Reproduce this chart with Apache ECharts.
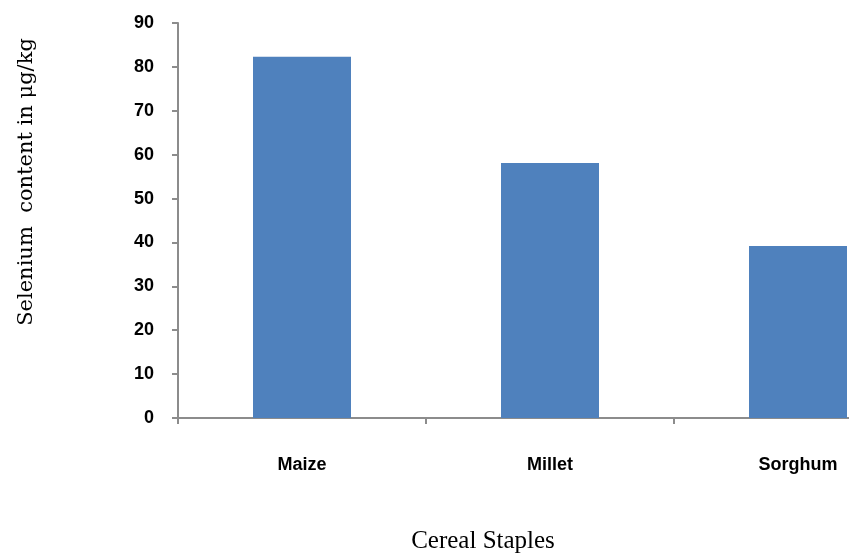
<!DOCTYPE html>
<html>
<head>
<meta charset="utf-8">
<script src="https://cdn.jsdelivr.net/npm/echarts@6/dist/echarts.min.js"></script>
<style>
  html, body { margin: 0; padding: 0; background: #fff; }
  #main { width: 849px; height: 554px; }
</style>
</head>
<body>
<div id="main"></div>
<script>
var categories = ['Maize', 'Millet', 'Sorghum'];
var selenium = [82.3, 58.1, 39.2];
var yTitle = 'Selenium  content in \u03bcg/kg';
var xTitle = 'Cereal Staples';

var chart = echarts.init(document.getElementById('main'), null, { renderer: 'canvas' });

var option = {
  backgroundColor: '#ffffff',
  animation: false,
  grid: {
    left: 178,
    top: 23,
    bottom: 136,
    width: 744,
    outerBoundsMode: 'none',
    containLabel: false
  },
  xAxis: {
    type: 'category',
    data: categories,
    axisLine: { lineStyle: { color: '#8c8c8c', width: 2 } },
    axisTick: { show: true, length: 6, lineStyle: { color: '#8c8c8c', width: 2 } },
    axisLabel: {
      color: '#000',
      fontFamily: 'Liberation Sans',
      fontWeight: 'bold',
      fontSize: 18,
      margin: 38
    },
    splitLine: { show: false }
  },
  yAxis: {
    type: 'value',
    min: 0,
    max: 90,
    interval: 10,
    axisLine: { show: true, lineStyle: { color: '#8c8c8c', width: 2 } },
    axisTick: { show: true, length: 6, lineStyle: { color: '#8c8c8c', width: 2 } },
    axisLabel: {
      color: '#000',
      fontFamily: 'Liberation Sans',
      fontWeight: 'bold',
      fontSize: 18,
      margin: 24
    },
    splitLine: { show: false }
  },
  series: [{
    type: 'bar',
    data: selenium,
    barWidth: 98,
    itemStyle: { color: '#4f81bd' }
  }],
  graphic: [
    {
      type: 'text',
      x: 27,
      y: 182,
      rotation: Math.PI / 2,
      style: {
        text: yTitle,
        fill: '#000',
        font: '21px "DejaVu Serif", serif',
        align: 'center',
        verticalAlign: 'middle'
      }
    },
    {
      type: 'text',
      x: 483,
      y: 541,
      style: {
        text: xTitle,
        fill: '#000',
        font: '25px "Liberation Serif", "DejaVu Serif", serif',
        align: 'center',
        verticalAlign: 'middle'
      }
    }
  ]
};

chart.setOption(option);
</script>
</body>
</html>
